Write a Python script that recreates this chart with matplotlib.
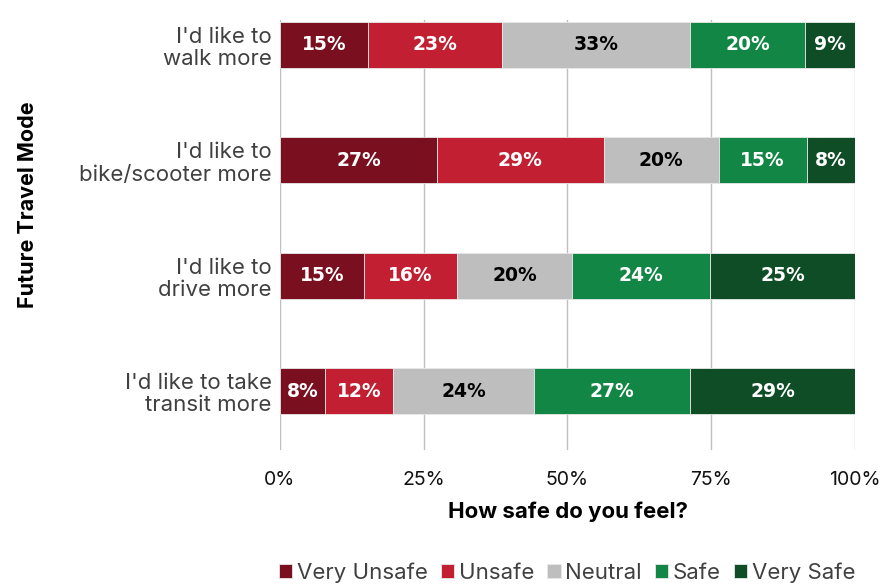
import matplotlib.pyplot as plt
import numpy as np

# categories (top to bottom)
modes = ["I'd like to\nwalk more", "I'd like to\nbike/scooter more",
         "I'd like to\ndrive more", "I'd like to take\ntransit more"]
levels = ["Very Unsafe", "Unsafe", "Neutral", "Safe", "Very Safe"]
colors = ["#7A0F1F", "#C21F33", "#BEBEBE", "#128745", "#0E4D26"]
txt_colors = ["white", "white", "black", "white", "white"]

# shares in percent
very_unsafe = [15.3, 27.3, 14.6, 7.8]
unsafe = [23.3, 29.0, 16.2, 11.9]
neutral = [32.7, 20.0, 20.0, 24.5]
safe = [20.0, 15.3, 24.0, 27.1]
very_safe = [8.7, 8.4, 25.2, 28.7]
labels = [[15, 27, 15, 8], [23, 29, 16, 12], [33, 20, 20, 24],
          [20, 15, 24, 27], [9, 8, 25, 29]]

series = [very_unsafe, unsafe, neutral, safe, very_safe]

plt.rcParams['font.family'] = ['Inter', 'DejaVu Sans']
fig = plt.figure(figsize=(8.86, 5.85), dpi=100)
ax = fig.add_axes([0.316, 0.231, 0.649, 0.735])

y = np.arange(len(modes))
left = np.zeros(len(modes))
for i, vals in enumerate(series):
    vals = np.array(vals)
    ax.barh(y, vals, left=left, height=0.4, color=colors[i], label=levels[i],
            edgecolor="#e8e8e8", linewidth=0.6, zorder=3)
    for j in range(len(modes)):
        ax.text(left[j] + vals[j] / 2, y[j], f"{labels[i][j]}%", ha="center", va="center",
                color=txt_colors[i], fontsize=13.5, fontweight="bold",
                family=['DejaVu Sans'], zorder=4)
    left += vals

ax.set_xlim(0, 100)
ax.set_ylim(3.51, -0.217)
ax.set_yticks(y)
ax.set_yticklabels(modes, fontsize=16, color="#404040", linespacing=1.15)
ax.set_xticks([0, 25, 50, 75, 100])
ax.set_xticklabels(["0%", "25%", "50%", "75%", "100%"], fontsize=14, color="#111111")
ax.tick_params(axis="y", length=0, pad=6)
ax.tick_params(axis="x", length=0, pad=15)
ax.grid(axis="x", color="#BFBFBF", linewidth=1, zorder=0)
for s in ax.spines.values():
    s.set_visible(False)

ax.set_xlabel("How safe do you feel?", fontsize=16, fontweight="bold", labelpad=9)
fig.text(0.032, 0.65, "Future Travel Mode", rotation=90, fontsize=15.5, fontweight="bold",
         ha="center", va="center")

leg = fig.legend(loc="lower center", bbox_to_anchor=(0.64, -0.03), ncol=5, frameon=False,
                 fontsize=16, handlelength=0.6, handleheight=0.6, handletextpad=0.2,
                 columnspacing=0.6)
for t in leg.get_texts():
    t.set_color("#404040")

fig.savefig("out.png", dpi=100)
